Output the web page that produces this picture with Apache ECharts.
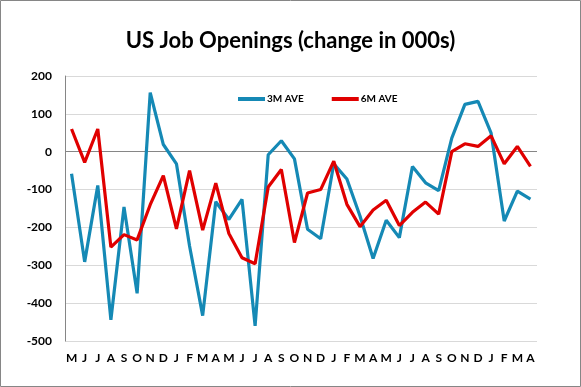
<!DOCTYPE html>
<html>
<head>
<meta charset="utf-8">
<script src="https://cdn.jsdelivr.net/npm/echarts@6/dist/echarts.min.js"></script>
<style>
html,body{margin:0;padding:0;background:#fff;}
#chart{width:581px;height:387px;}
</style>
</head>
<body>
<div id="chart"></div>
<script>
const categories = ['M','J','J','A','S','O','N','D','J','F','M','A',
                    'M','J','J','A','S','O','N','D','J','F','M','A',
                    'M','J','J','A','S','O','N','D','J','F','M','A'];
const ave3m = [-58,-291,-89,-444,-146,-374,156,19,-32,-249,-433,-132,
               -179,-126,-460,-8,29,-19,-205,-230,-32,-72,-170,-282,
               -181,-227,-39,-82,-103,36,125,133,49,-183,-104,-125];
const ave6m = [60,-28,60,-252,-219,-233,-140,-63,-204,-50,-207,-83,
               -216,-280,-296,-93,-47,-240,-109,-100,-25,-139,-198,-154,
               -128,-195,-160,-133,-165,0,21,14,42,-32,14,-39];
const yTicks = {min:-500, max:200, interval:100};

const chart = echarts.init(document.getElementById('chart'), null, {renderer:'canvas'});
const font = 'Lato, "Open Sans", sans-serif';
chart.setOption({
  animation:false,
  backgroundColor:'#fff',
  title:{
    text:'US Job Openings (change in 000s)',
    left:'center', top:25,
    textStyle:{fontFamily:font, fontSize:22, fontWeight:'bold', color:'#000'}
  },
  legend:{
    left:233, top:89,
    itemWidth:27, itemHeight:4, itemGap:28, icon:'rect',
    textStyle:{fontFamily:font, fontSize:10, fontWeight:'bold', color:'#000', padding:[0,0,0,-3]},
    data:['3M AVE','6M AVE']
  },
  graphic:[{type:'rect', shape:{x:0.5,y:0.5,width:580,height:386}, style:{fill:'none', stroke:'#868686', lineWidth:1}, silent:true}],
  grid:{left:65, right:44, top:76, bottom:46},
  xAxis:{
    type:'category', data:categories, boundaryGap:true,
    axisLine:{show:false, onZero:false},
    axisTick:{show:false},
    axisLabel:{interval:0, margin:11, fontFamily:font, fontSize:12, fontWeight:'bold', color:'#000'}
  },
  yAxis:{
    type:'value', min:yTicks.min, max:yTicks.max, interval:yTicks.interval,
    axisLine:{show:true, lineStyle:{color:'#868686', width:1}},
    axisTick:{show:false},
    splitLine:{lineStyle:{color:'#d9d9d9', width:1}},
    axisLabel:{margin:13, fontFamily:font, fontSize:12, fontWeight:'bold', color:'#000'}
  },
  series:[
    {name:'3M AVE', type:'line', data:ave3m, symbol:'none', z:3,
     lineStyle:{color:'#1589b5', width:3.2}, itemStyle:{color:'#1589b5'},
     markLine:{silent:true, symbol:'none', label:{show:false},
       lineStyle:{color:'#868686', width:1, type:'solid'}, data:[{yAxis:0}], z:1}},
    {name:'6M AVE', type:'line', data:ave6m, symbol:'none', z:4,
     lineStyle:{color:'#e00000', width:3.2}, itemStyle:{color:'#e00000'}}
  ]
});
</script>
</body>
</html>
